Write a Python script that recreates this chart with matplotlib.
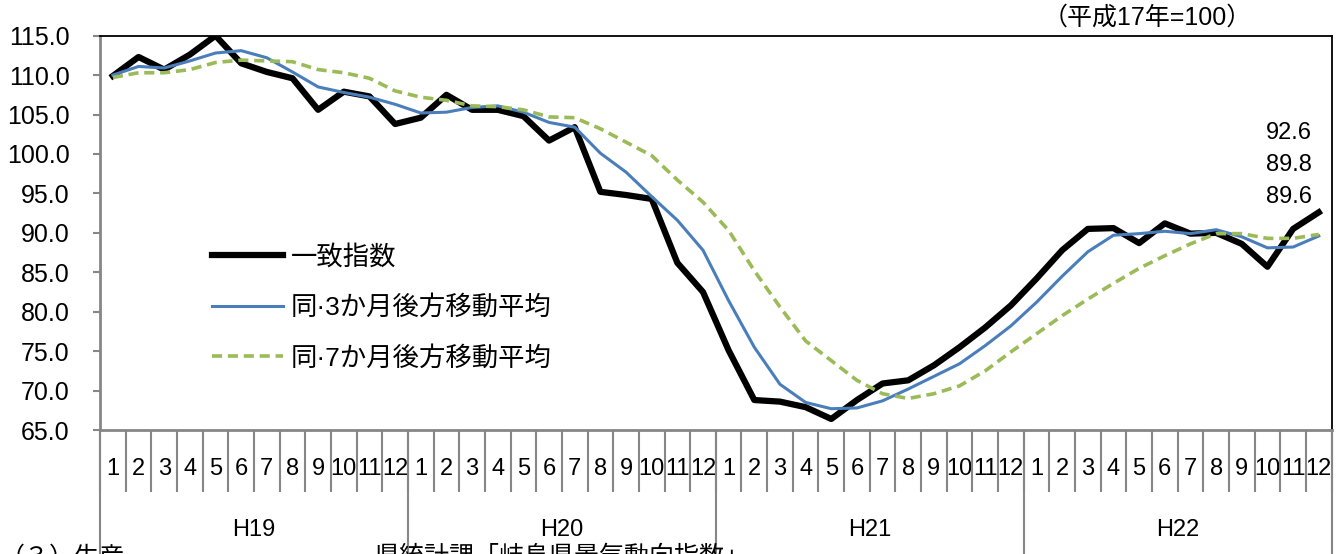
import numpy as np
import matplotlib
matplotlib.use("Agg")
import matplotlib.pyplot as plt
from matplotlib.ticker import FormatStrFormatter

plt.rcParams["font.family"] = ["Liberation Sans", "Noto Sans CJK JP"]

YEARS = ["H19", "H20", "H21", "H22"]
MONTHS = [str(m) for m in range(1, 13)]

LABELS = ["一致指数", "同·3か月後方移動平均", "同·7か月後方移動平均"]

# H19.1 .. H22.12
coincident = [109.9, 112.3, 110.7, 112.6, 115.0, 111.5, 110.4, 109.6, 105.6, 107.9, 107.3, 103.8,
              104.6, 107.5, 105.6, 105.6, 104.8, 101.7, 103.4, 95.2, 94.8, 94.3, 86.2, 82.5,
              75.1, 68.8, 68.6, 67.9, 66.4, 68.8, 70.9, 71.3, 73.2, 75.5, 78.0, 80.8,
              84.2, 87.8, 90.5, 90.6, 88.7, 91.2, 89.9, 90.0, 88.6, 85.7, 90.5, 92.6]
ma3 = [110.0, 111.1, 110.9, 111.8, 112.8, 113.1, 112.2, 110.4, 108.5, 107.8, 107.2, 106.3,
       105.2, 105.3, 105.9, 106.1, 105.3, 104.0, 103.4, 100.1, 97.7, 94.6, 91.6, 87.8,
       81.4, 75.5, 70.8, 68.5, 67.7, 67.8, 68.7, 70.2, 71.8, 73.4, 75.7, 78.2,
       81.2, 84.5, 87.6, 89.7, 89.9, 90.2, 89.9, 90.4, 89.5, 88.1, 88.2, 89.6]
ma7 = [109.7, 110.3, 110.3, 110.7, 111.6, 111.9, 111.8, 111.7, 110.7, 110.3, 109.6, 108.0,
       107.2, 106.8, 106.1, 106.0, 105.6, 104.7, 104.6, 103.2, 101.5, 99.8, 96.7, 93.9,
       90.3, 85.2, 80.6, 76.3, 73.8, 71.3, 69.6, 69.0, 69.6, 70.6, 72.5, 74.9,
       77.2, 79.5, 81.6, 83.6, 85.5, 87.1, 88.6, 89.9, 89.9, 89.3, 89.3, 89.8]

GRAY = "#868686"

fig = plt.figure(figsize=(13.43, 5.54), dpi=100)
ax = fig.add_axes([0.0745, 0.2238, 0.9170, 0.7118])

n = len(coincident)
x = np.arange(n)
ax.plot(x, coincident, color="black", lw=4.5, label=LABELS[0], zorder=3)
ax.plot(x, ma3, color="#4a7ebb", lw=2.2, label=LABELS[1], zorder=4)
ax.plot(x, ma7, color="#9bbb59", lw=2.6, dashes=(2.8, 1.6), label=LABELS[2], zorder=5)

ax.set_xlim(-0.5, n - 0.5)
ax.set_ylim(65, 115)
ax.set_yticks(np.arange(65, 115.1, 5))
ax.yaxis.set_major_formatter(FormatStrFormatter("%.1f"))
ax.tick_params(axis="y", length=5, width=1.5, color=GRAY, pad=17, labelsize=18)

# month labels at the centres, separators between months
ax.set_xticks(x, labels=MONTHS * len(YEARS))
ax.set_xticks(np.arange(n + 1) - 0.5, minor=True)
ax.tick_params(axis="x", which="major", length=0, pad=20, labelsize=17)
ax.tick_params(axis="x", which="minor", length=44.6, width=1.5, color=GRAY)

# year labels and long year separators
secax = ax.secondary_xaxis("bottom")
secax.set_xticks(np.arange(len(YEARS) + 1) * 12 - 0.5, labels=[])
secax.set_xticks(np.arange(len(YEARS)) * 12 + 5.5, labels=YEARS, minor=True)
secax.tick_params(axis="x", which="major", length=95, width=1.5, color=GRAY)
secax.tick_params(axis="x", which="minor", length=0, pad=64, labelsize=17)
secax.spines["bottom"].set_visible(False)

for side in ["left", "bottom"]:
    ax.spines[side].set_color(GRAY)
    ax.spines[side].set_linewidth(2)
for side in ["top", "right"]:
    ax.spines[side].set_color("black")
    ax.spines[side].set_linewidth(1.3)

leg = ax.legend(loc="upper left", bbox_to_anchor=(0.0909, 0.47), frameon=False,
                fontsize=19, handlelength=2.7, handletextpad=0.3,
                labelspacing=0.97, borderpad=0, borderaxespad=0)

# latest values stacked above the last point
end_vals = [coincident[-1], ma7[-1], ma3[-1]]
for k, v in enumerate(end_vals):
    ax.annotate(f"{v:.1f}", xy=(x[-1], coincident[-1]), xytext=(-5, 57 - 23 * k),
                textcoords="offset points", ha="right", va="center", fontsize=17)

fig.text(0.932, 0.9675, "（平成17年=100）", ha="right", va="center", fontsize=18)

# page text cut by the crop
fig.text(0.0, 0.016, "（３）生産", ha="left", va="top", fontsize=18)
fig.text(0.279, 0.016, "県統計課「岐阜県景気動向指数」", ha="left", va="top", fontsize=18)

fig.savefig("out.png", dpi=100)
